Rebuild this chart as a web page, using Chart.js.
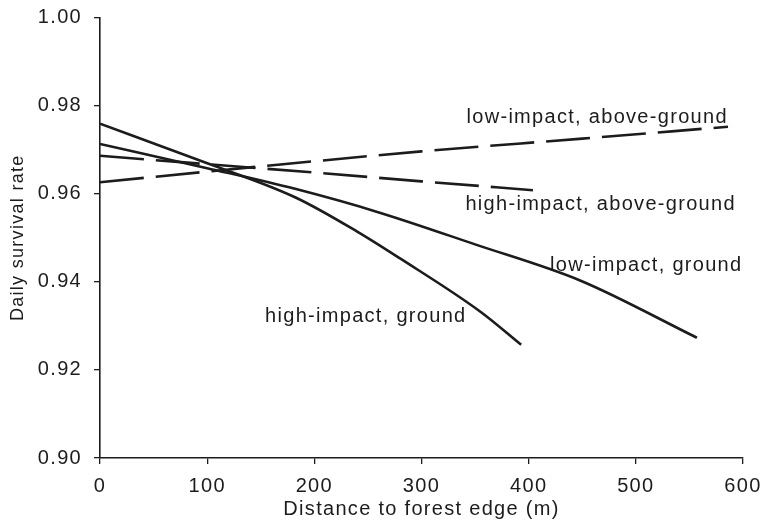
<!DOCTYPE html>
<html>
<head>
<meta charset="utf-8">
<script src="https://cdn.jsdelivr.net/npm/chart.js@4/dist/chart.umd.min.js"></script>
<style>
  html, body { margin: 0; padding: 0; background: #ffffff; }
  #wrap { width: 770px; height: 521px; }
</style>
</head>
<body>
<div id="wrap"><canvas id="c" width="770" height="521"></canvas></div>
<script>
// ---- data ----
const xTicks = [0, 100, 200, 300, 400, 500, 600];
const yTicks = [0.90, 0.92, 0.94, 0.96, 0.98, 1.00];

const seriesNames = ["high-impact, ground", "low-impact, ground", "low-impact, above-ground", "high-impact, above-ground"];

const hiGroundX = [0, 90, 182, 240, 280, 355, 393];
const hiGroundY = [0.9759, 0.9678, 0.9592, 0.9514, 0.9453, 0.9332, 0.9257];

const loGroundX = [0, 100, 182, 261, 350, 448, 557];
const loGroundY = [0.9713, 0.9658, 0.9611, 0.9557, 0.9485, 0.9403, 0.9273];

const loAboveX = [0, 150, 300, 450, 586];
const loAboveY = [0.9626, 0.9662, 0.9696, 0.9725, 0.9752];

const hiAboveX = [0, 100, 200, 300, 404];
const hiAboveY = [0.9686, 0.9667, 0.9648, 0.9628, 0.9608];

const xTitle = "Distance to forest edge (m)";
const yTitle = "Daily survival rate";

// ---- chart ----
const INK = '#1c1c1c';
const FONT = "'Liberation Sans', Arial, Helvetica, sans-serif";

function pts(xs, ys) { return xs.map((x, i) => ({ x: x, y: ys[i] })); }

// label placement (data coordinates, left edge / baseline)
const labelPlacement = [
  { text: seriesNames[2], x: 342, y: 0.9760 },
  { text: seriesNames[3], x: 341, y: 0.9563 },
  { text: seriesNames[1], x: 420, y: 0.9425 },
  { text: seriesNames[0], x: 154, y: 0.9309 }
];

const spacingPlugin = {
  id: 'spacing',
  beforeDraw(chart) { chart.ctx.letterSpacing = '1.3px'; }
};

const labelPlugin = {
  id: 'labels',
  afterDatasetsDraw(chart) {
    const ctx = chart.ctx;
    const xs = chart.scales.x, ys = chart.scales.y;
    ctx.save();
    ctx.letterSpacing = '1.3px';
    ctx.font = '20px ' + FONT;
    ctx.fillStyle = INK;
    ctx.textAlign = 'left';
    ctx.textBaseline = 'alphabetic';
    labelPlacement.forEach(l => {
      ctx.fillText(l.text, xs.getPixelForValue(l.x), ys.getPixelForValue(l.y));
    });
    ctx.restore();
  }
};

const lineStyle = (dash) => ({
  borderColor: INK,
  borderWidth: 2.6,
  borderDash: dash,
  pointRadius: 0,
  fill: false,
  cubicInterpolationMode: 'monotone'
});

new Chart(document.getElementById('c'), {
  type: 'line',
  data: {
    datasets: [
      Object.assign({ label: seriesNames[0], data: pts(hiGroundX, hiGroundY) }, lineStyle([])),
      Object.assign({ label: seriesNames[1], data: pts(loGroundX, loGroundY) }, lineStyle([])),
      Object.assign({ label: seriesNames[2], data: pts(loAboveX, loAboveY) }, lineStyle([44, 12])),
      Object.assign({ label: seriesNames[3], data: pts(hiAboveX, hiAboveY) }, lineStyle([44, 12]))
    ]
  },
  options: {
    responsive: false,
    animation: false,
    devicePixelRatio: 1,
    layout: { padding: { top: 17.5, right: 27, left: 0, bottom: 0 } },
    plugins: { legend: { display: false }, tooltip: { enabled: false } },
    scales: {
      x: {
        type: 'linear',
        min: xTicks[0],
        max: xTicks[xTicks.length - 1],
        afterBuildTicks: (s) => { s.ticks = xTicks.map(v => ({ value: v })); },
        afterFit: (s) => { s.height = 63; s.paddingLeft = 0; s.paddingRight = 0; },
        grid: { display: true, drawOnChartArea: false, drawTicks: true, tickLength: 6, color: INK, lineWidth: 1.3 },
        border: { display: true, color: INK, width: 1.6 },
        ticks: { color: INK, font: { family: FONT, size: 20 }, padding: 10, maxRotation: 0,
                 callback: (v) => String(v) },
        title: { display: true, text: xTitle, color: INK, font: { family: FONT, size: 20 },
                 padding: { top: 0, bottom: 0 } }
      },
      y: {
        type: 'linear',
        min: yTicks[0],
        max: yTicks[yTicks.length - 1],
        afterBuildTicks: (s) => { s.ticks = yTicks.map(v => ({ value: v })); },
        afterFit: (s) => { s.width = 100; s.paddingTop = 0; s.paddingBottom = 0; },
        grid: { display: true, drawOnChartArea: false, drawTicks: true, tickLength: 6, color: INK, lineWidth: 1.3 },
        border: { display: true, color: INK, width: 1.6 },
        ticks: { color: INK, font: { family: FONT, size: 20 }, padding: 12,
                 callback: (v) => Number(v).toFixed(2) },
        title: { display: true, text: yTitle, color: INK, font: { family: FONT, size: 18 },
                 padding: { top: 7, bottom: 0 } }
      }
    }
  },
  plugins: [spacingPlugin, labelPlugin]
});
</script>
</body>
</html>
